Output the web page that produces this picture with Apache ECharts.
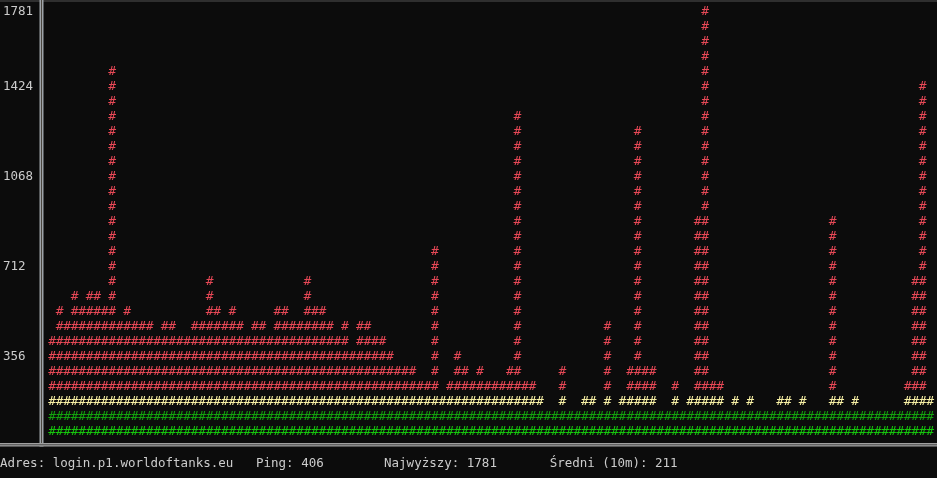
<!DOCTYPE html>
<html>
<head>
<meta charset="utf-8">
<script src="https://cdn.jsdelivr.net/npm/echarts@6/dist/echarts.min.js"></script>
<style>
html,body{margin:0;padding:0;background:#0c0c0c;}
#c{width:937px;height:478px;}
</style>
</head>
<body>
<div id="c"></div>
<script>
// Height of each column of '#' characters (rows filled, bottom-up), left to right
const columnHeights = [
  7, 9, 8,10, 9,10,10, 9,25, 8, 9, 8, 8, 8, 7, 8, 8, 7, 7, 8,
  8,11, 9, 8, 9, 8, 7, 8, 8, 7, 9, 9, 8, 8,11, 9, 9, 8, 7, 8,
  6, 8, 8, 7, 7, 6, 5, 5, 5, 4, 4,13, 3, 4, 6, 5, 4, 5, 4, 4,
  4, 5,22, 4, 4, 3, 2, 2, 5, 2, 2, 3, 3, 2, 8, 2, 3, 5,21, 5,
  5, 2, 2, 4, 2, 3,15,29, 4, 4, 2, 3, 2, 3, 2, 2, 2, 3, 3, 2,
  3, 2, 2, 2,15, 3, 2, 3, 2, 2, 2, 2, 2, 2, 4,11,24, 3
];
// Y axis tick labels (ms) and the row each sits on
const tickRows = [5, 11, 17, 23, 28];
const tickLabels = ['356', '712', '1068', '1424', '1781'];
// Status line
const statusTexts = ['Adres: login.p1.worldoftanks.eu', 'Ping: 406', 'Najwyższy: 1781', 'Średni (10m): 211'];
const statusCols = [0, 34, 51, 73];

const totalRows = 29;
const CHAR_W = 7.53, ROW_H = 15;
const MONO = '"DejaVu Sans Mono", "Liberation Mono", monospace';

function rowColor(k) {
  if (k === 0) return '#16c60c';
  if (k === 1) return '#13a10e';
  if (k === 2) return '#f9f1a5';
  return '#e74856';
}

const chart = echarts.init(document.getElementById('c'), null, {renderer: 'canvas'});
const gridLeft = 49.2 - CHAR_W / 2;
const gridTop = 12 - ROW_H / 2;

const graphics = [
  {type: 'rect', shape: {x: 0, y: 0, width: 937, height: 2}, style: {fill: '#2f2f2f'}, silent: true},
  {type: 'rect', shape: {x: 39.5, y: 0, width: 4, height: 446.5}, style: {fill: '#9ea3a8'}, silent: true},
  {type: 'rect', shape: {x: 41, y: 0, width: 1, height: 444}, style: {fill: '#4a463f'}, silent: true},
  {type: 'rect', shape: {x: 0, y: 443, width: 937, height: 3.5}, style: {fill: '#a0a0a0'}, silent: true},
  {type: 'rect', shape: {x: 0, y: 444.2, width: 937, height: 1}, style: {fill: '#4c4c4c'}, silent: true}
];
statusTexts.forEach((t, i) => {
  graphics.push({
    type: 'text', x: statusCols[i] * CHAR_W, y: 464, silent: true,
    style: {text: t, fill: '#cccccc', font: '12.5px ' + MONO, align: 'left', verticalAlign: 'middle'}
  });
});

chart.setOption({
  backgroundColor: '#0c0c0c',
  animation: false,
  grid: {left: gridLeft, top: gridTop, width: columnHeights.length * CHAR_W, height: totalRows * ROW_H, containLabel: false},
  xAxis: {type: 'value', min: -0.5, max: columnHeights.length - 0.5, show: false},
  yAxis: {
    type: 'value', min: -0.5, max: totalRows - 0.5,
    splitLine: {show: false}, axisLine: {show: false}, axisTick: {show: false},
    axisLabel: {
      customValues: tickRows,
      formatter: v => { const idx = tickRows.indexOf(Math.round(v)); return idx >= 0 ? tickLabels[idx] : ''; },
      align: 'left', margin: gridLeft, color: '#cccccc',
      fontFamily: MONO, fontSize: 12.5, verticalAlign: 'middle'
    }
  },
  series: [{
    type: 'custom',
    clip: false,
    data: columnHeights.map((h, i) => [i, h]),
    renderItem: function (params, api) {
      const i = api.value(0), h = api.value(1);
      const children = [];
      for (let k = 0; k < h; k++) {
        const p = api.coord([i, k]);
        children.push({
          type: 'text', x: p[0], y: p[1],
          style: {text: '#', fill: rowColor(k), font: '13px ' + MONO, align: 'center', verticalAlign: 'middle'}
        });
      }
      return {type: 'group', children: children};
    }
  }],
  graphic: graphics
});
</script>
</body>
</html>
